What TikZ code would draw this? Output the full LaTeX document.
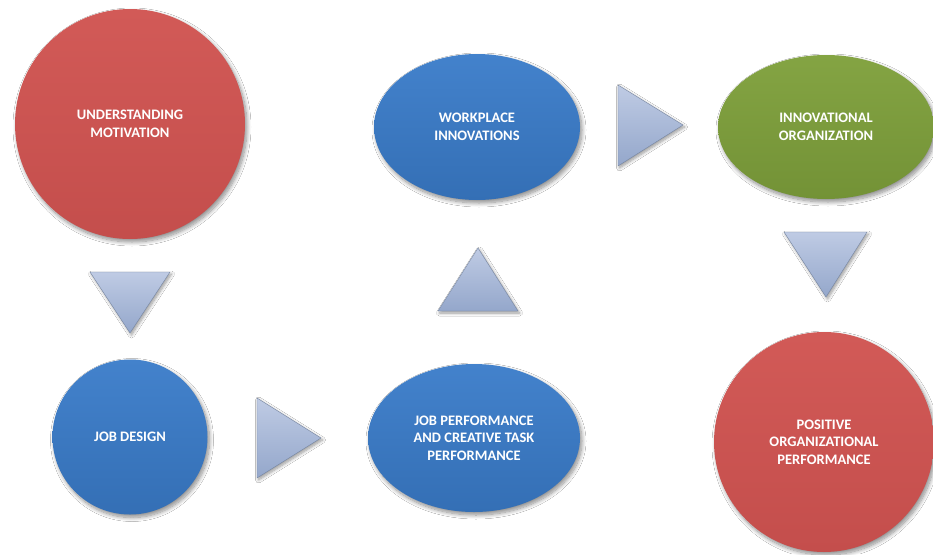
\documentclass[tikz,border=0pt]{standalone}
\usepackage{fontspec}
\setmainfont{Carlito}
\usetikzlibrary{shapes.geometric,shadows.blur}
\definecolor{redA}{HTML}{D25A57}
\definecolor{redB}{HTML}{C44E4C}
\definecolor{blueA}{HTML}{4382CC}
\definecolor{blueB}{HTML}{346FB5}
\definecolor{greenA}{HTML}{84A443}
\definecolor{greenB}{HTML}{739236}
\definecolor{triA}{HTML}{BFCBE4}
\definecolor{triB}{HTML}{94A7CB}
\tikzset{
  blob/.style={ellipse, inner sep=0pt, text=white, align=center,
    font=\fontsize{14.5}{17.5}\selectfont\bfseries,
    blur shadow={shadow xshift=2pt, shadow yshift=-3pt, shadow blur radius=4pt, shadow blur steps=10, shadow opacity=45}},
  redblob/.style={blob, top color=redA, bottom color=redB},
  blueblob/.style={blob, top color=blueA, bottom color=blueB},
  greenblob/.style={blob, top color=greenA, bottom color=greenB},
  arrowtri/.style={top color=triA, bottom color=triB, draw=triB!80!black, line width=0.4pt,
    blur shadow={shadow xshift=1.5pt, shadow yshift=-2pt, shadow blur radius=3pt, shadow blur steps=8, shadow opacity=40}},
}
\begin{document}
\begin{tikzpicture}[x=1pt,y=-1pt]
\useasboundingbox[fill=white] (0,0) rectangle (933,554);

\node[redblob, minimum width=230pt, minimum height=230pt] (um) at (130,124) {UNDERSTANDING\\MOTIVATION};
\node[blueblob, minimum width=155pt, minimum height=155pt] (jd) at (130,437) {JOB DESIGN};
\node[blueblob, minimum width=212pt, minimum height=148pt] (jp) at (474,438) {JOB PERFORMANCE\\AND CREATIVE TASK\\PERFORMANCE};
\node[blueblob, minimum width=206pt, minimum height=146pt] (wi) at (477,127) {WORKPLACE\\INNOVATIONS};
\node[greenblob, minimum width=216pt, minimum height=144pt] (io) at (826,127) {INNOVATIONAL\\ORGANIZATION};
\node[redblob, minimum width=220pt, minimum height=220pt] (pop) at (824,442) {POSITIVE\\ORGANIZATIONAL\\PERFORMANCE};

% arrow triangles
\path[arrowtri] (90,272) -- (170,272) -- (130,333) -- cycle;
\path[arrowtri] (257,398) -- (321,438) -- (257,478) -- cycle;
\path[arrowtri] (438,311) -- (478,248) -- (518,311) -- cycle;
\path[arrowtri] (618,85) -- (683,125) -- (618,166) -- cycle;
\path[arrowtri] (784,232) -- (867,232) -- (826,297) -- cycle;
\end{tikzpicture}
\end{document}
